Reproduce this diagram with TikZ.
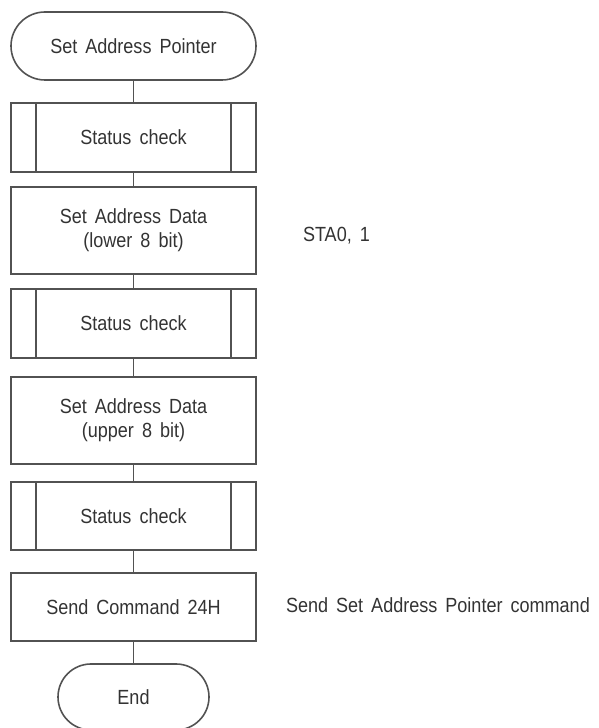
\documentclass[tikz,border=0pt]{standalone}
\usepackage{fontspec}
\setmainfont{Liberation Sans}[FakeStretch=0.88, WordSpace=1.6]
\begin{document}
\begin{tikzpicture}[x=1pt,y=1pt,
  every node/.style={font=\fontsize{20.5}{24}\selectfont, text=black!80, inner sep=0pt, outer sep=0pt},
  box/.style={draw=black!68, line width=1.6pt, minimum width=245pt, align=center},
  term/.style={box, rounded corners=34pt, minimum height=68pt},
  proc/.style={box, minimum height=69pt},
  act/.style={box, minimum height=87pt},
  conn/.style={draw=black!68, line width=1.6pt},
  note/.style={anchor=west}]
\useasboundingbox (0,0) rectangle (598,728);
\clip (0,0) rectangle (598,728);
\node[term] (start) at (133.5,682) {Set Address Pointer};
\node[proc] (sc1) at (133.5,590.5) {Status check};
\node[act] (lo) at (133.5,497.5) {Set Address Data\\(lower 8 bit)};
\node[proc] (sc2) at (133.5,404.5) {Status check};
\node[act] (up) at (133.5,307.5) {Set Address Data\\(upper 8 bit)};
\node[proc, minimum height=68pt] (sc3) at (133.5,212) {Status check};
\node[box, minimum height=68pt] (send) at (133.5,121) {Send Command 24H};
\node[term, minimum width=151pt, minimum height=66pt, rounded corners=33pt] (end) at (133.5,31) {End};
\foreach \n in {sc1,sc2,sc3}{
  \draw[conn] ([xshift=25pt]\n.north west) -- ([xshift=25pt]\n.south west);
  \draw[conn] ([xshift=-25pt]\n.north east) -- ([xshift=-25pt]\n.south east);
}
\draw[conn] (start) -- (sc1);
\draw[conn] (sc1) -- (lo);
\draw[conn] (lo) -- (sc2);
\draw[conn] (sc2) -- (up);
\draw[conn] (up) -- (sc3);
\draw[conn] (sc3) -- (send);
\draw[conn] (send) -- (end);
\node[note] (n1) at (303,492) {STA0, 1};
\node[note] (n2) at (286,123) {Send Set Address Pointer command};
\end{tikzpicture}
\end{document}
